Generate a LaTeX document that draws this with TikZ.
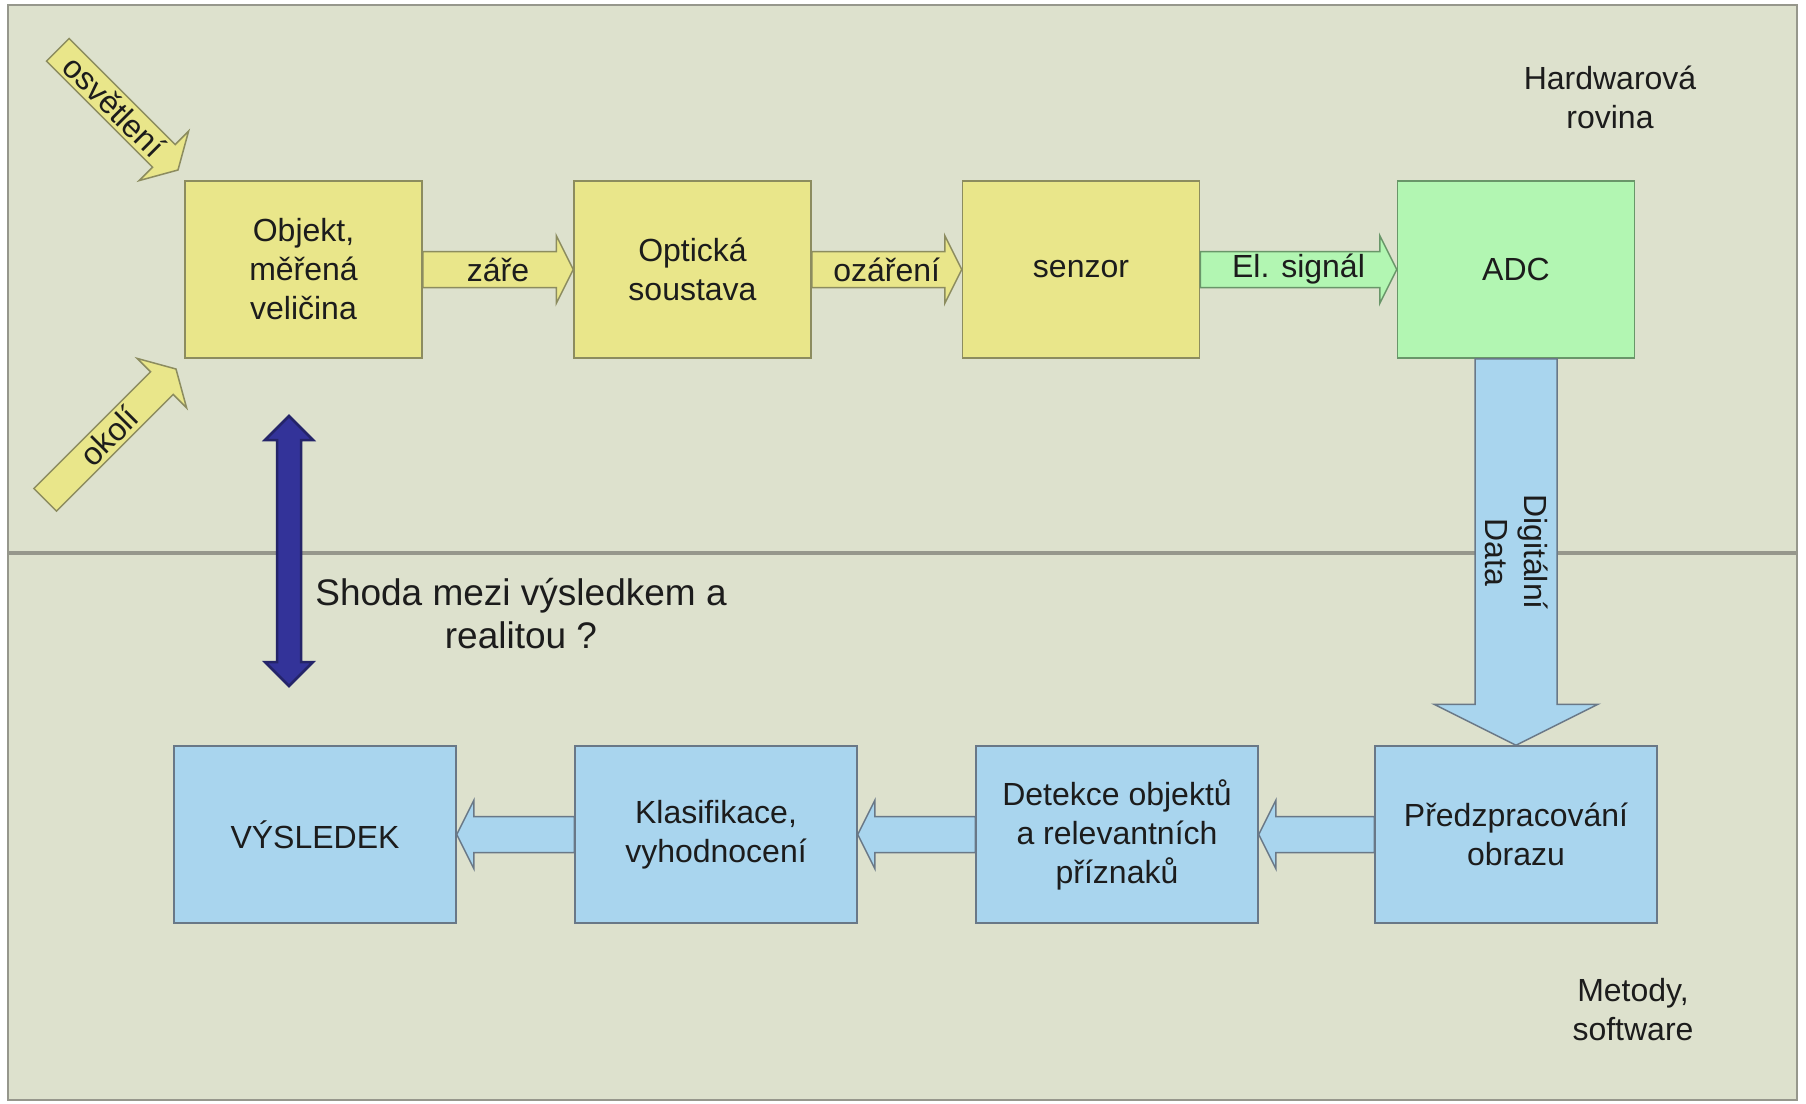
\documentclass[tikz,border=0pt]{standalone}
\usepackage{fontspec}
\setmainfont{Liberation Sans}
\definecolor{pane}{RGB}{221,225,205}
\definecolor{paneline}{RGB}{150,151,140}
\definecolor{yellowfill}{RGB}{233,230,138}
\definecolor{yellowline}{RGB}{140,140,95}
\definecolor{greenfill}{RGB}{178,246,178}
\definecolor{greenline}{RGB}{105,150,105}
\definecolor{bluefill}{RGB}{169,213,238}
\definecolor{blueline}{RGB}{105,120,135}
\definecolor{navyfill}{RGB}{51,51,153}
\definecolor{navyline}{RGB}{36,36,105}
\definecolor{textcol}{RGB}{28,28,28}
\begin{document}
\begin{tikzpicture}[x=1pt,y=-1pt]
 \tikzset{lbl/.style={align=center, inner sep=0pt, text=textcol, font=\fontsize{32}{39}\selectfont}}
 \tikzset{yellowbox/.style={lbl, draw=yellowline, fill=yellowfill, line width=1.5pt, minimum width=237pt, minimum height=177pt}}
 \tikzset{greenbox/.style={yellowbox, draw=greenline, fill=greenfill}}
 \tikzset{bluebox/.style={yellowbox, draw=blueline, fill=bluefill, minimum width=282pt}}
 \tikzset{fatarrow/.style={line width=1.5pt, to path={([yshift=18pt]\tikztostart) -- ([xshift=#1,yshift=18pt]\tikztotarget) -- ([xshift=#1,yshift=34pt]\tikztotarget) -- (\tikztotarget) -- ([xshift=#1,yshift=-34pt]\tikztotarget) -- ([xshift=#1,yshift=-18pt]\tikztotarget) -- ([yshift=-18pt]\tikztostart) -- cycle}}}
 \useasboundingbox[fill=white] (0,0) rectangle (1806,1103);
 % the two planes
 \draw[fill=pane, draw=paneline, line width=2.5pt] (8,5) rectangle (1797,553);
 \draw[fill=pane, draw=paneline, line width=2.5pt] (8,553) rectangle (1797,1100);
 \draw[paneline, line width=4pt] (8,553) -- (1797,553);
 \node[lbl] (hw) at (1610,97) {Hardwarová\\rovina};
 \node[lbl] (sw) at (1633,1010) {Metody,\\software};
 % hardware chain
 \node[yellowbox] (obj) at (303.5,269.5) {Objekt,\\měřená\\veličina};
 \node[yellowbox] (opt) at (692.5,269.5) {Optická\\soustava};
 \node[yellowbox] (sen) at (1081,269.5) {senzor};
 \node[greenbox] (adc) at (1516,269.5) {ADC};
 \draw[fatarrow=-17pt, draw=yellowline, fill=yellowfill] (obj.east) to (opt.west);
 \draw[fatarrow=-17pt, draw=yellowline, fill=yellowfill] (opt.east) to (sen.west);
 \draw[fatarrow=-17pt, draw=greenline, fill=greenfill] (sen.east) to (adc.west);
 \path (obj.east) -- node[lbl] (zare) {záře} (opt.west);
 \path (opt.east) -- node[lbl] (ozar) {ozáření} (sen.west);
 \path (sen.east) -- node[lbl] (els) {El. signál} (adc.west);
 % inputs of the object
 \begin{scope}[shift={(178,170)}, rotate=-45]
  \draw[line width=1.5pt, draw=yellowline, fill=yellowfill] (-170,-16) -- (-20,-16) -- (-20,-35) -- (0,0) -- (-20,35) -- (-20,16) -- (-170,16) -- cycle;
  \node[lbl, transform shape] (osv) at (-90,0) {osvětlení};
 \end{scope}
 \begin{scope}[shift={(176,369)}, rotate=45]
  \draw[line width=1.5pt, draw=yellowline, fill=yellowfill] (-185,-16) -- (-20,-16) -- (-20,-35) -- (0,0) -- (-20,35) -- (-20,16) -- (-185,16) -- cycle;
  \node[lbl, transform shape] (oko) at (-95,0) {okolí};
 \end{scope}
 % software chain
 \node[bluebox] (vys) at (315,834.5) {VÝSLEDEK};
 \node[bluebox] (kla) at (716,834.5) {Klasifikace,\\vyhodnocení};
 \node[bluebox] (det) at (1117,834.5) {Detekce objektů\\a relevantních\\příznaků};
 \node[bluebox] (pred) at (1516,834.5) {Předzpracování\\obrazu};
 \draw[fatarrow=17pt, draw=blueline, fill=bluefill] (pred.west) to (det.east);
 \draw[fatarrow=17pt, draw=blueline, fill=bluefill] (det.west) to (kla.east);
 \draw[fatarrow=17pt, draw=blueline, fill=bluefill] (kla.west) to (vys.east);
 % digital data
 \draw[line width=1.5pt, draw=blueline, fill=bluefill] ([xshift=-41pt]adc.south) -- ([xshift=-41pt,yshift=41pt]pred.north) -- ([xshift=-82pt,yshift=41pt]pred.north) -- (pred.north) -- ([xshift=82pt,yshift=41pt]pred.north) -- ([xshift=41pt,yshift=41pt]pred.north) -- ([xshift=41pt]adc.south) -- cycle;
 \node[lbl, rotate=-90] (dig) at (1517,552) {Digitální\\Data};
 % result vs reality
 \draw[line width=2.5pt, draw=navyline, fill=navyfill] (289,416) -- (313,440) -- (301,440) -- (301,662) -- (313,662) -- (289,686) -- (265,662) -- (277,662) -- (277,440) -- (265,440) -- cycle;
 \node[lbl, font=\fontsize{37}{43}\selectfont] (shoda) at (521,614) {Shoda mezi výsledkem a\\realitou ?};
\end{tikzpicture}
\end{document}
